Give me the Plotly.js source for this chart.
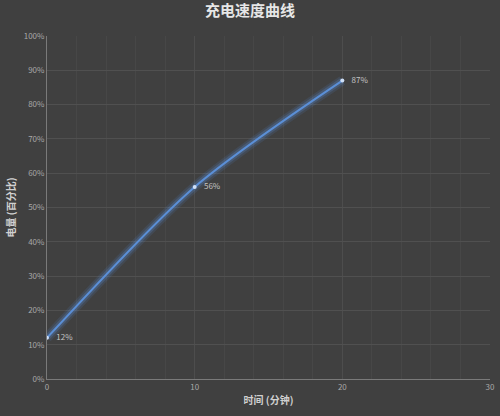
<!DOCTYPE html>
<html>
<head>
<meta charset="utf-8">
<script src="https://cdn.plot.ly/plotly-3.0.1.min.js"></script>
<style>
  html, body { margin: 0; padding: 0; background: #404040; }
  #plot { width: 500px; height: 416px; }
</style>
</head>
<body>
<div id="plot"></div>
<script>
// data
var minutes = [0, 10, 20];
var charge = [0.12, 0.56, 0.87];
var chargeLabels = ['12%', '56%', '87%'];

var font = '"Noto Sans CJK SC", "Open Sans", sans-serif';

function glow(width, alpha) {
	return {
		x: minutes, y: charge, type: 'scatter', mode: 'lines',
		line: {shape: 'spline', smoothing: 0.8, width: width, color: 'rgba(90,150,230,' + alpha + ')'},
		hoverinfo: 'skip', showlegend: false
	};
}

var main = {
	x: minutes, y: charge, type: 'scatter', mode: 'lines+markers+text',
	text: chargeLabels.map(function (s) { return '\u2002 ' + s; }), textposition: 'middle right',
	textfont: {family: font, size: 8, color: '#c4c4c4'},
	line: {shape: 'spline', smoothing: 0.8, width: 2, color: '#5b8fd6'},
	marker: {size: 4, color: '#cfe0f8', line: {width: 0}},
	showlegend: false
};

var layout = {
	width: 500, height: 416,
	paper_bgcolor: '#404040', plot_bgcolor: '#404040',
	margin: {l: 47, r: 10, t: 36, b: 37},
	title: {text: '充电速度曲线', x: 0.5, xanchor: 'center', y: 0.975, yanchor: 'middle',
		font: {family: font, size: 15, color: '#e6e6e6', weight: 'bold'}},
	xaxis: {
		range: [0, 30], dtick: 10, tick0: 0,
		showline: true, linecolor: '#7a7a7a', linewidth: 1,
		showgrid: true, gridcolor: '#4d4d4d', gridwidth: 1,
		minor: {dtick: 2, showgrid: true, gridcolor: '#474747', gridwidth: 1},
		zeroline: false, ticks: '', ticklen: 0,
		tickfont: {family: font, size: 8, color: '#a8a8a8'},
		title: {text: '时间 (分钟)', standoff: 6, font: {family: font, size: 10, color: '#d0d0d0', weight: 'bold'}}
	},
	yaxis: {
		range: [0, 1], dtick: 0.1, tickformat: '.0%',
		showline: true, linecolor: '#7a7a7a', linewidth: 1,
		showgrid: true, gridcolor: '#505050', gridwidth: 1,
		zeroline: false, ticks: '', ticklen: 0,
		tickfont: {family: font, size: 8, color: '#a8a8a8'},
		title: {text: '电量 (百分比)', standoff: 6, font: {family: font, size: 10, color: '#d0d0d0', weight: 'bold'}}
	}
};

Plotly.newPlot('plot', [glow(10, 0.12), glow(6, 0.22), main], layout, {displayModeBar: false, staticPlot: true});
</script>
</body>
</html>
